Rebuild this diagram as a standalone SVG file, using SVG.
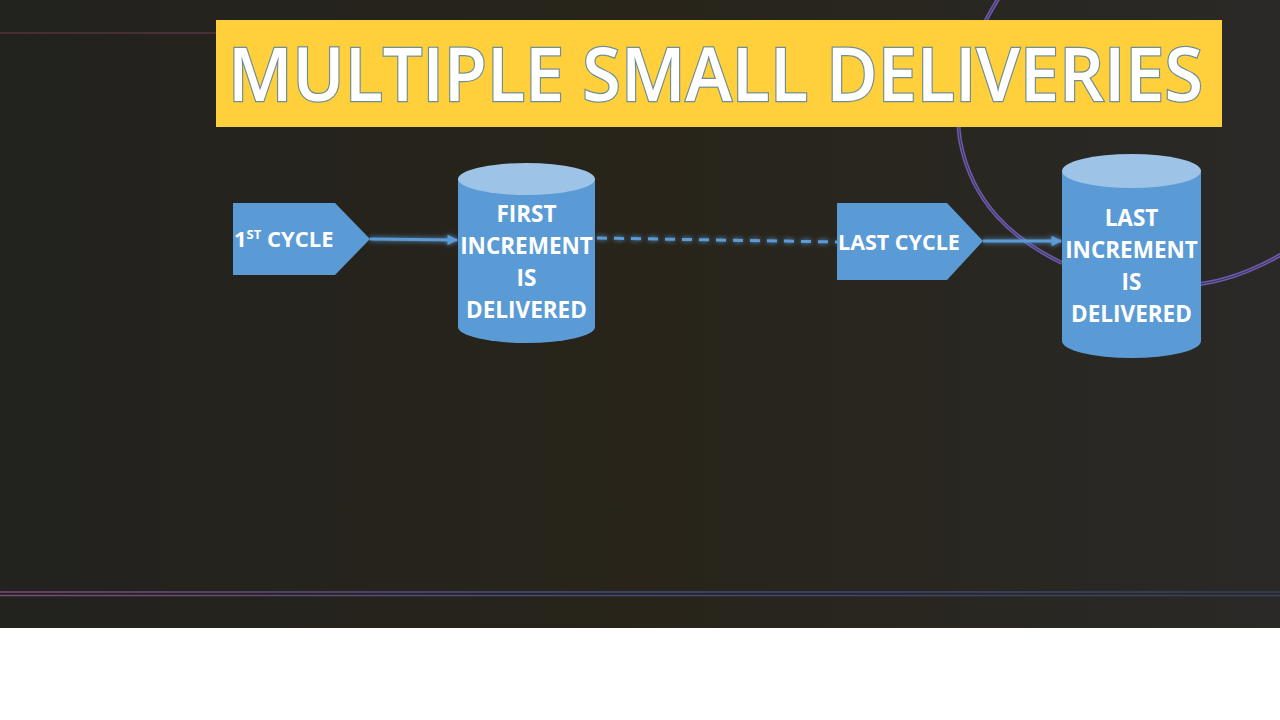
<svg xmlns="http://www.w3.org/2000/svg" width="1280" height="720" viewBox="0 0 1280 720">
<defs>
<linearGradient id="bg" x1="0" y1="0" x2="1" y2="0">
<stop offset="0" stop-color="#22221f"/>
<stop offset="0.5" stop-color="#28241a"/>
<stop offset="1" stop-color="#2a2927"/>
</linearGradient>
<linearGradient id="hl" gradientUnits="userSpaceOnUse" x1="0" y1="0" x2="1280" y2="0">
<stop offset="0" stop-color="#7a4a78"/>
<stop offset="0.5" stop-color="#3e4a86"/>
<stop offset="1" stop-color="#3a3f5a"/>
</linearGradient>
<filter id="glow" filterUnits="userSpaceOnUse" x="0" y="150" width="1280" height="200">
<feGaussianBlur stdDeviation="2.5" result="b"/>
<feMerge><feMergeNode in="b"/><feMergeNode in="SourceGraphic"/></feMerge>
</filter>
<marker id="arr" viewBox="0 0 10 10" refX="9" refY="5" markerWidth="4" markerHeight="3.5" orient="auto" markerUnits="strokeWidth">
<path d="M0,0 L10,5 L0,10 z" fill="#5b9bd5"/>
</marker>
<style>
.body{fill:#5b9bd5;}
.top{fill:#9dc3e6;}
.lbl{font-family:"Open Sans","Lato","Liberation Sans",sans-serif;font-weight:700;fill:#ffffff;font-size:22.5px;text-anchor:middle;}
.conn{stroke:#5b9bd5;stroke-width:3;fill:none;}
.arc{fill:none;}
</style>
</defs>
<rect x="0" y="0" width="1280" height="628" fill="url(#bg)"/>
<rect x="0" y="628" width="1280" height="92" fill="#ffffff"/>
<!-- decorative lines -->
<line x1="0" y1="33" x2="216" y2="33" stroke="#4a2e35" stroke-width="2"/>
<line x1="0" y1="592" x2="1280" y2="592" stroke="url(#hl)" stroke-width="1.5"/>
<line x1="0" y1="595.5" x2="1280" y2="595.5" stroke="url(#hl)" stroke-width="1.5"/>
<path class="arc" d="M1000,-4 C975,35 952,90 960,140 C972,205 1015,240 1062,263 M1200,284 C1230,280 1258,268 1282,254" stroke="#6d5aa8" stroke-width="4"/>
<path class="arc" d="M1000,-4 C975,35 952,90 960,140 C972,205 1015,240 1062,263 M1200,284 C1230,280 1258,268 1282,254" stroke="#3a3060" stroke-width="1"/>

<g id="title">
<rect x="216" y="20" width="1006" height="107" fill="#ffcf3c"/>
<text x="228" y="101" textLength="975" lengthAdjust="spacingAndGlyphs" font-family="'Open Sans','Lato','Liberation Sans',sans-serif" font-size="74" font-weight="600" fill="#ffffff" stroke="#6f8f92" stroke-width="2.5" paint-order="stroke">MULTIPLE SMALL DELIVERIES</text>
</g>

<g id="connectors" filter="url(#glow)">
<line class="conn" x1="370" y1="239" x2="457" y2="240" marker-end="url(#arr)"/>
<line class="conn" x1="597" y1="238" x2="837" y2="242" stroke-dasharray="10,7"/>
<line class="conn" x1="983" y1="241" x2="1061" y2="241" marker-end="url(#arr)"/>
</g>

<g id="cycle1">
<path class="body" d="M233,203 L335,203 L370,239 L335,275 L233,275 z"/>
<text x="234" y="247" font-family="'Open Sans','Lato','Liberation Sans',sans-serif" font-weight="700" font-size="22" fill="#ffffff">1<tspan font-size="13" dy="-8">ST</tspan><tspan dy="8"> CYCLE</tspan></text>
</g>

<g id="increment1">
<path class="body" d="M458,179 L458,327 A68.5,16 0 0 0 595,327 L595,179 z"/>
<ellipse class="top" cx="526.5" cy="179" rx="68.5" ry="16"/>
<text class="lbl" x="526.5" y="222">FIRST</text>
<text class="lbl" x="526.5" y="254">INCREMENT</text>
<text class="lbl" x="526.5" y="286">IS</text>
<text class="lbl" x="526.5" y="318">DELIVERED</text>
</g>

<g id="lastcycle">
<path class="body" d="M837,203 L947,203 L983,241 L947,280 L837,280 z"/>
<text x="838" y="250" font-family="'Open Sans','Lato','Liberation Sans',sans-serif" font-weight="700" font-size="21.5" fill="#ffffff">LAST CYCLE</text>
</g>

<g id="increment2">
<path class="body" d="M1062,171 L1062,341 A69.5,17 0 0 0 1201,341 L1201,171 z"/>
<ellipse class="top" cx="1131.5" cy="171" rx="69.5" ry="17"/>
<text class="lbl" x="1131.5" y="226">LAST</text>
<text class="lbl" x="1131.5" y="258">INCREMENT</text>
<text class="lbl" x="1131.5" y="290">IS</text>
<text class="lbl" x="1131.5" y="322">DELIVERED</text>
</g>
</svg>
